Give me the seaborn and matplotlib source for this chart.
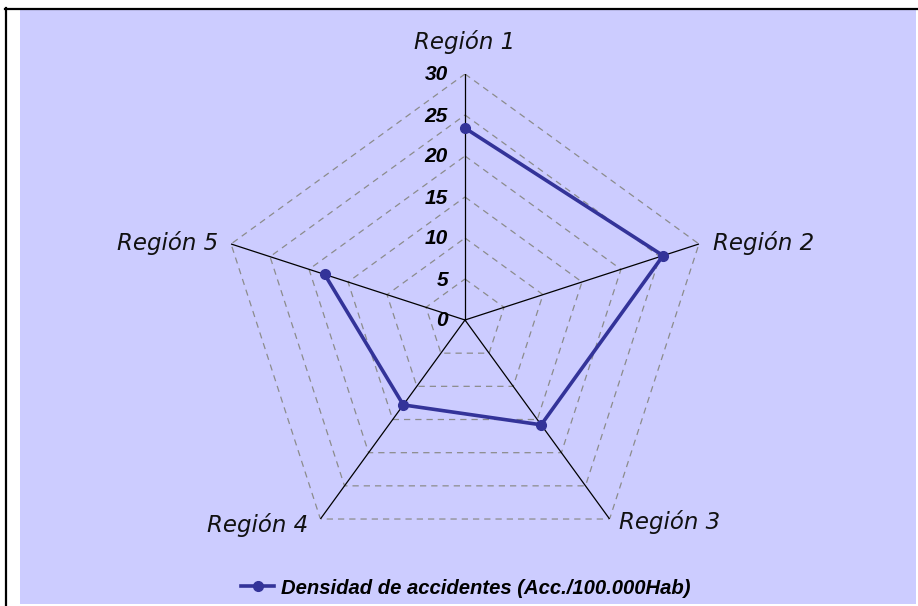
import numpy as np
import pandas as pd
import matplotlib
matplotlib.use("Agg")
import matplotlib.pyplot as plt
from matplotlib.patches import Rectangle
from matplotlib.lines import Line2D
import seaborn as sns

# ---- data ----
categories = ["Región 1", "Región 2", "Región 3", "Región 4", "Región 5"]
values = [23.4, 25.4, 15.8, 12.8, 18.0]
tick_values = [0, 5, 10, 15, 20, 25, 30]
series_name = "Densidad de accidentes (Acc./100.000Hab)"

W, H = 918, 606
fig = plt.figure(figsize=(W / 100, H / 100), dpi=100)
fig.patch.set_facecolor("white")

# purple chart area and black frame
fig.patches.append(Rectangle((20 / W, 1 - 604 / H), (916 - 20) / W, (604 - 10) / H,
                             transform=fig.transFigure, facecolor="#CCCCFF",
                             edgecolor="none", zorder=-5))
fig.lines.append(Line2D([5.5 / W, 5.5 / W], [0, 1 - 8 / H], transform=fig.transFigure,
                        color="black", lw=1.6, zorder=-4))
fig.lines.append(Line2D([5 / W, 1], [1 - 9 / H, 1 - 9 / H], transform=fig.transFigure,
                        color="black", lw=1.6, zorder=-4))

cx, cy, R = 465, 320, 246
ax = fig.add_axes([(cx - R) / W, (H - cy - R) / H, 2 * R / W, 2 * R / H],
                  projection="polar")
ax.set_zorder(2)
ax.set_facecolor("none")
ax.set_theta_offset(np.pi / 2)
ax.set_theta_direction(-1)
ax.set_ylim(0, 30)
ax.grid(False)
ax.set_xticks([])
ax.set_yticks([])
ax.spines["polar"].set_visible(False)

n = len(categories)
angles = [2 * np.pi * i / n for i in range(n)]
closed = angles + [angles[0]]

# grid rings (polygonal, dashed)
for r in tick_values[1:]:
    ax.plot(closed, [r] * (n + 1), color="#8c8c8c", lw=0.9, ls=(0, (5, 4)), zorder=1)
# spokes
for a in angles:
    ax.plot([a, a], [0, 30], color="black", lw=0.9, zorder=2)

# series
df = pd.DataFrame({"angle": closed, "value": values + [values[0]]})
sns.lineplot(data=df, x="angle", y="value", sort=False, ax=ax, color="#333399",
             lw=2.6, marker="o", markersize=7, markeredgecolor="#333399",
             markeredgewidth=1, label=series_name, zorder=3)
ax.set_xlabel("")
ax.set_ylabel("")
ax.set_xticks([])
ax.set_yticks([])
ax.set_ylim(0, 30)
leg = ax.get_legend()
if leg is not None:
    leg.remove()

# radial tick labels
for t in tick_values:
    ax.annotate(str(t), xy=(0, t), xytext=(-17, -1), textcoords="offset pixels",
                ha="right", va="center", fontsize=15, fontweight="bold",
                fontstyle="italic", family="Liberation Sans", color="black",
                annotation_clip=False)

# category labels
offsets = [((0, 32), "center"), ((14, 1), "left"), ((9, -3), "left"),
           ((-12, -6), "right"), ((-13, 1), "right")]
for a, lab, (off, ha) in zip(angles, categories, offsets):
    ax.annotate(lab, xy=(a, 30), xytext=off, textcoords="offset pixels",
                ha=ha, va="center", fontsize=16.5, fontstyle="italic",
                family="DejaVu Sans", color="#111111", annotation_clip=False)

handles, labels = ax.get_legend_handles_labels()
fig.legend(handles, labels, loc="center", bbox_to_anchor=(466 / W, 1 - 588 / H),
           frameon=False, handlelength=1.6, handletextpad=0.35,
           prop={"family": "Liberation Sans", "weight": "bold", "style": "italic",
                 "size": 14.6})

fig.savefig("out.png", dpi=100)
